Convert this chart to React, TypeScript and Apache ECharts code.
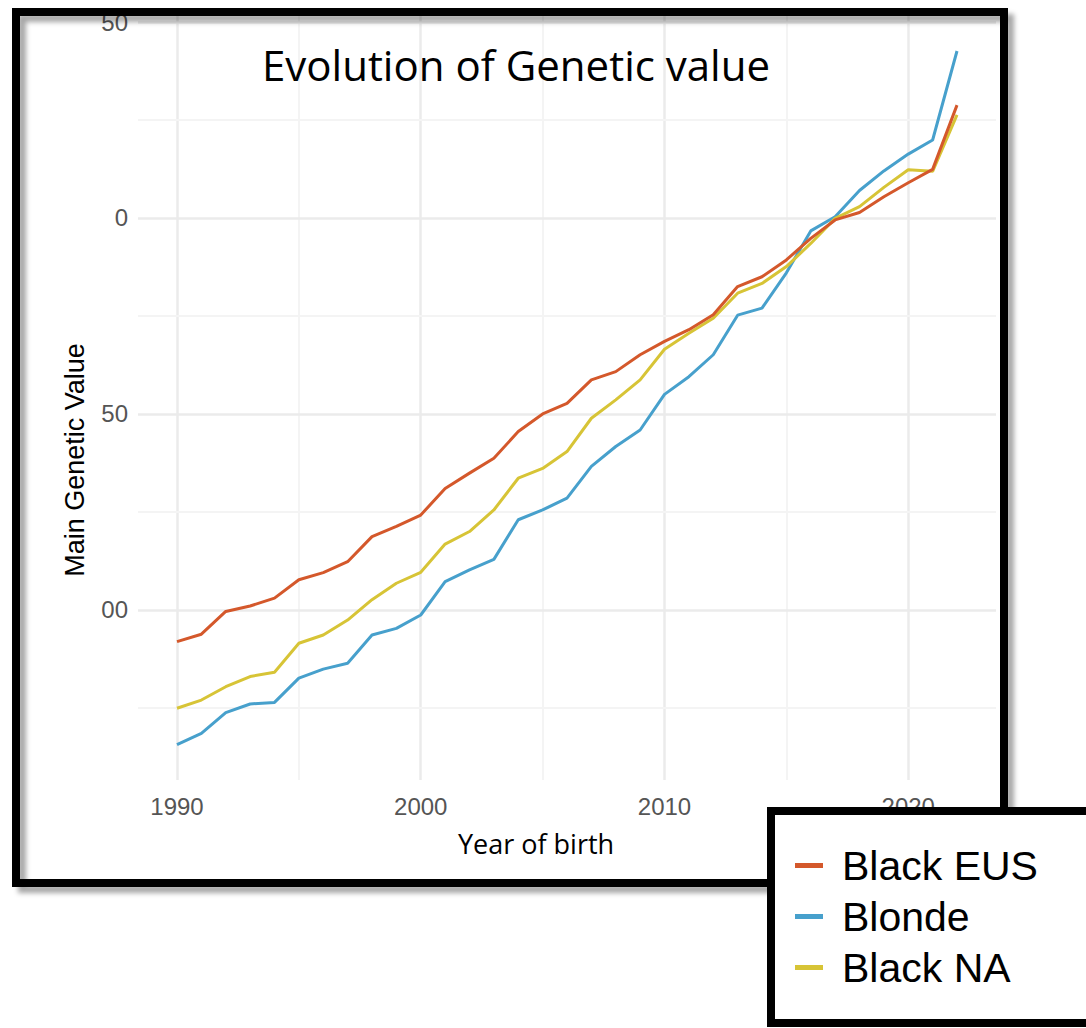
import React, { useEffect, useRef } from 'react';
import * as echarts from 'echarts';

const years = [
  1990, 1991, 1992, 1993, 1994, 1995, 1996, 1997, 1998, 1999,
  2000, 2001, 2002, 2003, 2004, 2005, 2006, 2007, 2008, 2009,
  2010, 2011, 2012, 2013, 2014, 2015, 2016, 2017, 2018, 2019,
  2020, 2021, 2022,
];

const blackEUS = [
  -8.1, -6.2, -0.4, 1.0, 3.0, 7.7, 9.5, 12.3, 18.7, 21.3,
  24.2, 31.0, 34.9, 38.7, 45.5, 50.0, 52.7, 58.7, 60.8, 65.1,
  68.5, 71.5, 75.3, 82.5, 85.0, 89.3, 94.8, 99.5, 101.4, 105.4,
  109.0, 112.4, 128.8,
];

const blonde = [
  -34.4, -31.5, -26.2, -24.0, -23.6, -17.4, -15.1, -13.6, -6.4, -4.7,
  -1.3, 7.2, 10.2, 12.9, 23.0, 25.5, 28.5, 36.6, 41.7, 45.9,
  55.0, 59.5, 65.1, 75.2, 77.0, 86.0, 96.7, 100.3, 107.0, 112.0,
  116.3, 119.9, 142.6,
];

const blackNA = [
  -25.1, -23.0, -19.6, -17.0, -15.9, -8.5, -6.4, -2.6, 2.6, 6.8,
  9.6, 16.8, 20.0, 25.5, 33.6, 36.1, 40.4, 48.9, 53.6, 58.7,
  66.5, 70.6, 74.4, 80.8, 83.3, 87.6, 93.5, 99.9, 102.9, 107.8,
  112.3, 111.9, 126.3,
];

const legendNames = ['Black EUS', 'Blonde', 'Black NA'];
const xTickValues = [1990, 2000, 2010, 2020];
const xMinorValues = [1995, 2005, 2015];
const yTickValues = [0, 50, 100, 150];
const yTickLabels = ['00', '50', '0', '50'];
const yMinorValues = [-25, 25, 75, 125];

const COLOR_EUS = '#d4582b';
const COLOR_BLONDE = '#47a0cc';
const COLOR_NA = '#d7c436';

export default function App() {
  const ref = useRef<HTMLDivElement>(null);

  useEffect(() => {
    if (!ref.current) return;
    const chart = echarts.init(ref.current, null, { renderer: 'svg' });

    const major = { color: '#ebebeb', width: 2.5, type: 'solid' };
    const minor = { color: '#f4f4f4', width: 2, type: 'solid' };

    const gridLines = [
      ...xTickValues.map((v) => ({ xAxis: v, lineStyle: major })),
      ...xMinorValues.map((v) => ({ xAxis: v, lineStyle: minor })),
      ...yTickValues.map((v) => ({ yAxis: v, lineStyle: major })),
      ...yMinorValues.map((v) => ({ yAxis: v, lineStyle: minor })),
    ];

    const mk = (name: string, vals: number[], color: string, z: number) => ({
      name,
      type: 'line',
      data: years.map((y, i) => [y, vals[i]]),
      symbol: 'none',
      showSymbol: false,
      z,
      lineStyle: { width: 3, color },
      itemStyle: { color },
      emphasis: { disabled: true },
    });

    const tickFont = {
      fontFamily: 'Liberation Sans, Arial, sans-serif',
      fontSize: 24,
      color: '#555555',
    };

    const option: any = {
      animation: false,
      backgroundColor: '#ffffff',
      title: {
        text: 'Evolution of Genetic value',
        left: 511,
        top: 59,
        textAlign: 'center',
        textVerticalAlign: 'middle',
        textStyle: {
          fontFamily: 'Open Sans',
          fontSize: 42,
          fontWeight: 'normal',
          color: '#000',
        },
      },
      grid: {
        left: 138,
        right: 90,
        top: 13,
        bottom: 248,
        containLabel: false,
        outerBoundsMode: 'none',
      },
      xAxis: {
        type: 'value',
        min: 1988.4,
        max: 2023.6,
        axisLine: { show: false },
        axisTick: { show: false },
        splitLine: { show: false },
        axisLabel: {
          customValues: xTickValues,
          margin: 14,
          ...tickFont,
          formatter: (v: number) => String(v),
        },
        name: 'Year of birth',
        nameLocation: 'middle',
        nameGap: 50,
        nameTextStyle: {
          fontFamily: 'Open Sans',
          fontSize: 27,
          color: '#000',
          padding: [0, 62, 0, 0],
        },
      },
      yAxis: {
        type: 'value',
        min: -43.4,
        max: 152.3,
        axisLine: { show: false },
        axisTick: { show: false },
        splitLine: { show: false },
        axisLabel: {
          customValues: yTickValues,
          margin: 10,
          ...tickFont,
          formatter: (v: number) => {
            const i = yTickValues.indexOf(v);
            return i >= 0 ? yTickLabels[i] : '';
          },
        },
        name: 'Main Genetic Value',
        nameLocation: 'middle',
        nameRotate: 90,
        nameGap: 50,
        nameTextStyle: {
          fontFamily: 'Liberation Sans',
          fontSize: 27,
          color: '#000',
          padding: [0, 127, 0, 0],
        },
      },
      legend: {
        data: legendNames,
        orient: 'vertical',
        left: 795,
        top: 845,
        padding: 0,
        itemWidth: 28,
        itemHeight: 5,
        itemGap: 10,
        icon: 'rect',
        selectedMode: false,
        z: 20,
        textStyle: {
          fontFamily: 'Liberation Sans',
          fontSize: 41,
          lineHeight: 41,
          color: '#000',
          padding: [0, 0, 0, 14],
        },
      },
      graphic: [
        {
          type: 'rect',
          z: 10,
          shape: { x: 16, y: 12, width: 988, height: 871 },
          style: {
            fill: 'none',
            stroke: '#000',
            lineWidth: 8,
            shadowBlur: 5,
            shadowOffsetX: 6,
            shadowOffsetY: 6,
            shadowColor: 'rgba(0,0,0,0.35)',
          },
        },
        {
          type: 'rect',
          z: 11,
          shape: { x: 771, y: 811, width: 400, height: 212 },
          style: { fill: '#ffffff', stroke: '#000', lineWidth: 8 },
        },
      ],
      series: [
        {
          name: 'grid-lines',
          type: 'line',
          data: [],
          silent: true,
          z: 1,
          markLine: {
            silent: true,
            z: 1,
            symbol: ['none', 'none'],
            label: { show: false },
            emphasis: { disabled: true },
            data: gridLines,
          },
        },
        mk('Blonde', blonde, COLOR_BLONDE, 3),
        mk('Black NA', blackNA, COLOR_NA, 4),
        mk('Black EUS', blackEUS, COLOR_EUS, 5),
      ],
    };

    chart.setOption(option);
    return () => chart.dispose();
  }, []);

  return (
    <div
      ref={ref}
      style={{ position: 'fixed', left: 0, top: 0, width: 1086, height: 1028 }}
    />
  );
}
